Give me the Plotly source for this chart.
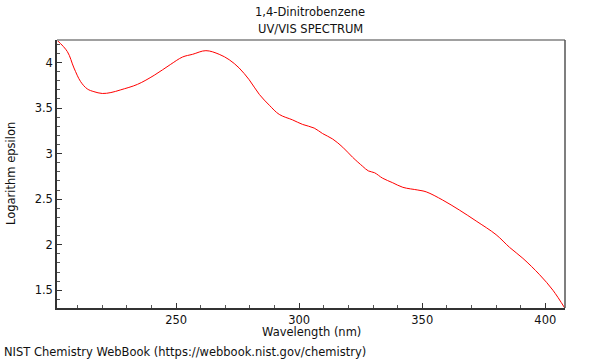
import plotly.graph_objects as go

wavelength = [201.6, 205.8, 208.5, 211.2, 213.9, 216.6, 220.0, 223.5, 227.5, 234.3,
              241.1, 247.8, 252.6, 256.7, 262.1, 267.5, 271.6, 275.6, 279.7, 283.8,
              287.9, 291.9, 297.3, 301.4, 306.1, 309.5, 313.6, 317.7, 321.7, 325.8,
              328.1, 330.6, 333.9, 338.0, 342.1, 348.2, 351.6, 358.3, 365.1, 371.9,
              380.0, 385.5, 390.9, 397.7, 403.1, 408.0]
log_eps = [4.245, 4.12, 3.94, 3.79, 3.71, 3.68, 3.66, 3.67, 3.70, 3.76,
           3.86, 3.98, 4.06, 4.09, 4.13, 4.09, 4.03, 3.94, 3.81, 3.65,
           3.53, 3.43, 3.37, 3.32, 3.28, 3.22, 3.16, 3.07, 2.96, 2.86,
           2.81, 2.79, 2.73, 2.68, 2.63, 2.60, 2.58, 2.49, 2.38, 2.26,
           2.11, 1.97, 1.85, 1.67, 1.50, 1.30]

title_lines = ["1,4-Dinitrobenzene", "UV/VIS SPECTRUM"]
x_title = "Wavelength (nm)"
y_title = "Logarithm epsilon"
footer = "NIST Chemistry WebBook (https://webbook.nist.gov/chemistry)"

font = "DejaVu Sans"
FS = 11.5
L, R, T, B = 57, 35, 40, 52
PW, PH = 600 - L - R, 360 - T - B


def px_x(px):
    return (px - L) / PW


def px_y(py):
    return (360 - B - py) / PH


fig = go.Figure()
fig.add_trace(go.Scatter(x=wavelength, y=log_eps, mode="lines",
                         line=dict(color="#ff0000", width=1), line_shape="spline",
                         showlegend=False, hoverinfo="skip"))

fig.update_layout(
    width=600, height=360,
    margin=dict(l=L, r=R, t=T, b=B, autoexpand=False),
    paper_bgcolor="white", plot_bgcolor="white",
    font=dict(family=font, size=FS, color="#111"),
    xaxis=dict(range=[201.6, 408.0], showgrid=False, zeroline=False, automargin=False,
               showline=True, linecolor="#333", linewidth=1.5,
               ticks="inside", ticklen=5, tickcolor="#333", dtick=50, tick0=0,
               minor=dict(ticks="inside", ticklen=3, dtick=10, tickcolor="#555"),
               tickfont=dict(size=FS)),
    yaxis=dict(range=[1.305, 4.247], showgrid=False, zeroline=False, automargin=False,
               showline=True, linecolor="#333", linewidth=1.5,
               ticks="inside", ticklen=5, tickcolor="#333", dtick=0.5, tick0=0,
               minor=dict(ticks="inside", ticklen=3, dtick=0.1, tickcolor="#555"),
               tickfont=dict(size=FS)),
)

fig.add_shape(type="line", xref="paper", yref="paper", x0=0, x1=1, y0=1, y1=1,
              line=dict(color="#a0a0a0", width=2))
fig.add_shape(type="line", xref="paper", yref="paper", x0=1, x1=1, y0=0, y1=1,
              line=dict(color="#555", width=1.5))

ann_font = dict(family=font, size=FS, color="#111")
fig.add_annotation(text=title_lines[0], xref="paper", yref="paper", x=px_x(310), y=px_y(12),
                   xanchor="center", yanchor="middle", showarrow=False, font=ann_font)
fig.add_annotation(text=title_lines[1], xref="paper", yref="paper", x=px_x(310), y=px_y(29),
                   xanchor="center", yanchor="middle", showarrow=False, font=ann_font)
fig.add_annotation(text=x_title, xref="paper", yref="paper", x=px_x(311), y=px_y(332),
                   xanchor="center", yanchor="middle", showarrow=False, font=ann_font)
fig.add_annotation(text=y_title, xref="paper", yref="paper", x=px_x(11), y=px_y(174),
                   xanchor="center", yanchor="middle", showarrow=False, textangle=-90,
                   font=ann_font)
fig.add_annotation(text=footer, xref="paper", yref="paper", x=px_x(2), y=px_y(352),
                   xanchor="left", yanchor="middle", showarrow=False, font=ann_font)

fig.write_html("out.html", config={"displayModeBar": False},
               post_script="document.body.style.margin='0';document.body.style.overflow='hidden';")
